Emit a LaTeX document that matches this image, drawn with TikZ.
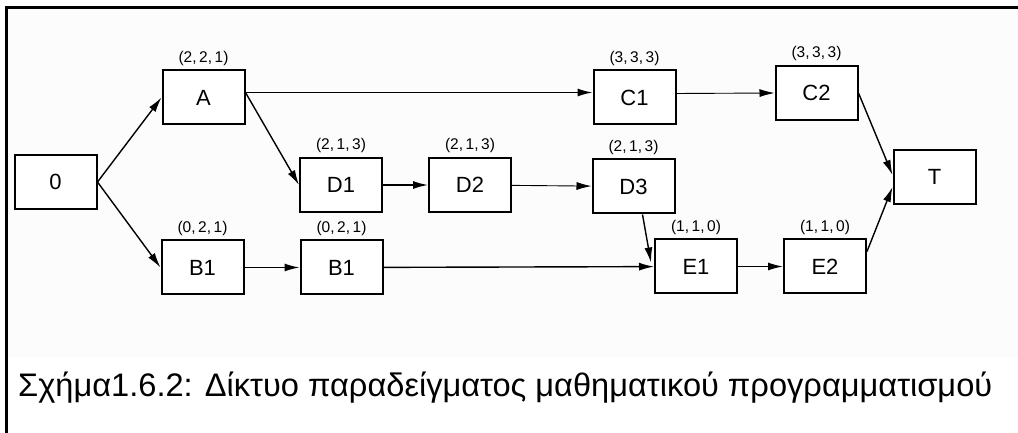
\documentclass[tikz,border=0pt]{standalone}
\usepackage{fontspec}
\setmainfont{Liberation Sans}
\usepackage{tikz}
\usetikzlibrary{positioning,arrows.meta,calc}
\definecolor{ink}   {HTML}{000000}
\definecolor{paper} {HTML}{FCFCFC}
\tikzset{
  job/.style    ={draw=ink, line width=2pt, fill=white, minimum width=82pt,
                  minimum height=54pt, inner sep=0pt,
                  font=\fontsize{22}{24}\selectfont},
  lbl/.style    ={font=\fontsize{15.5}{16}\selectfont, inner sep=1pt,
                  label distance=3pt},
  ar/.style     ={-{Latex[length=15pt,width=8pt]}, draw=ink, line width=1.4pt},
  arl/.style    ={-{Latex[length=15pt,width=8pt]}, draw=ink, line width=0.9pt},
  captxt/.style ={font=\fontsize{32.6}{34}\selectfont, inner sep=0pt}
}
\begin{document}
\begin{tikzpicture}[x=1pt,y=1pt]
\useasboundingbox (0,0) rectangle (1018,433);
\fill[paper] (7,76) rectangle (1018,424);
\draw[ink, line width=3pt] (6.5,0) -- (6.5,425.5) -- (1018,425.5);

\node[job] (n0) at (55.5,251) {0};
\node[job, label={[lbl]above:(2,\,2,\,1)}] (A) at (203.5,335.5) {A};
\node[job, label={[lbl]above:(2,\,1,\,3)}] (D1) at (341,248) {D1};
\node[job, label={[lbl]above:(2,\,1,\,3)}, right=45pt of D1] (D2) {D2};
\node[job, label={[lbl]above:(2,\,1,\,3)}] (D3) at (633.5,246.5) {D3};
\node[job, label={[lbl]above:(3,\,3,\,3)}] (C1) at (634.5,335.5) {C1};
\node[job, label={[lbl]above:(3,\,3,\,3)}] (C2) at (816.5,340) {C2};
\node[job] (T) at (934.5,256) {T};
\node[job, label={[lbl]above:(0,\,2,\,1)}] (B1) at (202.5,165.5) {B1};
\node[job, label={[lbl]above:(0,\,2,\,1)}, right=55pt of B1] (B1b) {B1};
\node[job, label={[lbl]above:(1,\,1,\,0)}] (E1) at (696,166.5) {E1};
\node[job, label={[lbl]above:(1,\,1,\,0)}, right=45pt of E1] (E2) {E2};

\node[captxt, anchor=base west] (caption) at (18,36)
  {Σχήμα1.6.2: Δίκτυο παραδείγματος μαθηματικού προγραμματισμού};

\draw[ar] (n0.east) -- (A.west);
\draw[ar] (n0.east) -- (B1.west);
\draw[ar] ([yshift=5pt]A.east) -- ([yshift=5pt]C1.west);
\draw[ar] ([yshift=5pt]A.east) -- (D1.west);
\draw[ar] (D1) -- (D2);
\draw[arl] (D2) -- (D3);
\draw[arl] ([yshift=4pt]C1.east) -- (C2.west);
\draw[ar] (C2.east) -- ([yshift=2pt]T.west);
\draw[ar] ([yshift=15pt]E2.east) -- ([yshift=-10pt]T.west);
\draw[ar] ([xshift=9pt]D3.south) -- ([xshift=-3pt,yshift=4pt]E1.west);
\draw[ar] (B1) -- (B1b);
\draw[ar] (B1b) -- (E1);
\draw[ar] (E1) -- (E2);
\end{tikzpicture}
\end{document}
